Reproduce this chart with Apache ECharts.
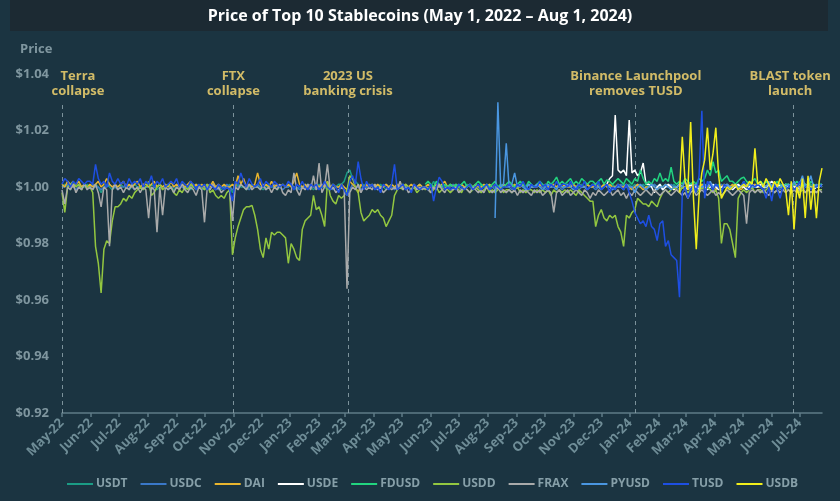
<!DOCTYPE html>
<html>
<head>
<meta charset="utf-8">
<script src="https://cdn.jsdelivr.net/npm/echarts@6/dist/echarts.min.js"></script>
<style>html,body{margin:0;padding:0;background:#1b3441;}#c{width:840px;height:501px;}</style>
</head>
<body>
<div id="c"></div>
<script>
// ---- DATA ----
const titleText = 'Price of Top 10 Stablecoins (May 1, 2022 \u2013 Aug 1, 2024)';
const seriesNames = ['USDT','USDC','DAI','USDE','FDUSD','USDD','FRAX','PYUSD','TUSD','USDB'];
const START = Date.UTC(2022, 4, 1);
const END = Date.UTC(2024, 6, 25);
const STEP_DAYS = 3;          // one value every 3 days
const N_POINTS = 273;
const monthAbbr = ['Jan','Feb','Mar','Apr','May','Jun','Jul','Aug','Sep','Oct','Nov','Dec'];
const yTicks = [0.92, 0.94, 0.96, 0.98, 1.00, 1.02, 1.04];

const events = [
  {date: Date.UTC(2022, 4, 1),  text: 'Terra\ncollapse'},
  {date: Date.UTC(2022, 10, 1), text: 'FTX\ncollapse'},
  {date: Date.UTC(2023, 2, 4),  text: '2023 US\nbanking crisis'},
  {date: Date.UTC(2024, 0, 6),  text: 'Binance Launchpool\nremoves TUSD'},
  {date: Date.UTC(2024, 5, 24), text: 'BLAST token\nlaunch'}
];

// start index (in the 3-day grid) of each series
const startIndex = {USDT:0, USDC:0, DAI:0, USDE:195, FDUSD:130, USDD:0, FRAX:0, PYUSD:155, TUSD:0, USDB:221};

const USDT = [
1.000,1.001,1.000,0.999,1.001,1.000,1.001,1.000,1.000,1.001,
1.000,0.999,1.001,1.000,0.998,1.000,1.001,1.000,0.999,1.000,
1.000,1.001,1.000,1.000,0.999,1.000,1.001,1.000,1.000,0.999,
1.000,1.000,1.001,1.000,0.999,1.000,1.000,1.001,1.000,1.000,
0.999,1.000,1.000,1.001,1.000,1.000,0.999,1.000,1.001,1.000,
1.000,0.999,1.000,1.000,1.001,1.000,1.000,0.999,1.000,1.000,
1.001,0.998,1.000,1.001,1.000,1.000,0.999,1.000,1.001,1.000,
1.000,1.000,0.999,1.000,1.001,1.000,1.000,0.999,1.000,1.001,
1.000,1.000,1.001,1.000,0.999,1.000,1.000,1.001,1.000,1.000,
0.999,1.000,1.001,1.000,1.000,0.999,1.000,1.001,1.000,1.001,
1.001,1.002,1.005,1.006,1.003,1.002,1.001,1.000,1.001,1.000,
1.000,1.001,1.000,1.000,1.001,1.000,0.999,1.000,1.001,1.000,
1.000,1.000,1.001,1.000,1.000,0.999,1.000,1.000,1.001,1.000,
1.000,1.001,1.000,1.002,1.000,1.000,1.001,1.000,1.000,1.001,
1.000,1.000,1.001,1.000,1.000,1.001,1.000,0.999,1.000,1.000,
1.001,1.000,1.000,1.001,1.000,1.000,0.999,1.000,1.001,1.000,
1.000,1.001,1.000,1.000,1.001,1.000,1.000,1.001,1.000,1.000,
1.001,1.000,1.000,1.001,1.000,1.001,1.000,1.000,1.001,1.000,
1.000,1.001,1.000,1.001,1.000,1.000,1.001,1.000,1.001,1.000,
1.001,1.000,1.001,1.000,1.000,1.001,1.000,1.001,1.000,1.001,
1.000,1.001,1.000,1.001,1.000,1.001,1.000,1.000,1.001,1.000,
1.001,1.000,1.001,1.000,1.001,1.000,1.000,1.001,1.000,1.001,
1.000,1.001,1.000,1.000,1.001,1.000,1.001,1.000,1.000,1.001,
1.001,1.000,1.001,1.000,1.000,1.001,1.000,1.001,1.000,1.000,
1.000,1.001,1.000,1.000,1.001,1.000,1.000,1.001,1.000,1.000,
1.001,1.000,1.000,1.001,1.000,1.000,1.001,1.000,1.000,1.001,
1.000,1.000,1.001,1.000,1.000,1.001,1.000,1.000,1.001,1.000,
1.000,1.001,1.000];

const USDC = [
1.000,1.000,1.001,1.000,1.000,0.999,1.000,1.000,1.001,1.000,
1.000,1.001,1.000,1.000,0.999,1.000,1.000,1.001,1.000,1.000,
0.999,1.000,1.000,1.001,1.000,1.000,0.999,1.000,1.000,1.001,
1.000,1.000,0.999,1.000,1.000,1.001,1.000,1.000,0.999,1.000,
1.000,1.001,1.000,1.000,0.999,1.000,1.000,1.001,1.000,1.000,
0.999,1.000,1.000,1.001,1.000,1.000,0.999,1.000,1.000,1.001,
1.000,0.999,1.000,1.000,1.001,1.000,1.000,0.999,1.000,1.000,
1.001,1.000,1.000,0.999,1.000,1.000,1.001,1.000,1.000,0.999,
1.000,1.000,1.001,1.000,1.000,0.999,1.000,1.000,1.001,1.000,
1.000,0.999,1.000,1.000,1.001,1.000,1.000,0.999,1.000,1.000,
1.000,0.999,0.997,0.999,1.001,1.000,1.000,0.999,1.000,1.000,
1.001,1.000,1.000,0.999,1.000,1.000,1.001,1.000,1.000,0.999,
1.000,1.000,1.001,1.000,1.000,0.999,1.000,1.000,1.001,1.000,
1.000,0.999,1.000,1.000,1.001,1.000,1.000,0.999,1.000,1.000,
1.001,1.000,1.000,0.999,1.000,1.000,1.001,1.000,1.000,0.999,
1.000,1.000,1.001,1.000,1.000,0.999,1.000,1.000,1.001,1.000,
1.000,0.999,1.000,1.000,1.001,1.000,1.000,0.999,1.000,1.000,
1.001,1.000,1.000,0.999,1.000,1.000,1.001,1.000,1.000,0.999,
1.000,1.000,1.001,1.000,1.000,0.999,1.000,1.000,1.001,1.000,
1.000,0.999,1.000,1.000,1.001,1.000,1.000,0.999,1.000,1.000,
1.001,1.000,1.000,0.999,1.000,1.000,1.001,1.000,1.000,0.999,
1.000,1.000,1.001,1.000,1.000,0.999,1.000,1.000,1.001,1.000,
1.000,0.999,1.000,1.000,1.001,1.000,1.000,0.999,1.000,1.000,
1.001,1.000,1.000,0.999,1.000,1.000,1.001,1.000,1.000,0.999,
1.000,1.000,1.001,1.000,1.000,0.999,1.000,1.000,1.001,1.000,
1.000,0.999,1.000,1.000,1.001,1.000,1.000,0.999,1.000,1.000,
1.001,1.000,1.000,0.999,1.000,1.000,1.001,1.000,1.000,0.999,
1.000,1.000,1.001];

const DAI = [
1.001,1.000,1.002,1.001,1.000,1.001,1.002,1.000,1.001,1.000,
1.001,1.000,1.001,1.002,1.000,1.001,1.003,1.001,1.000,1.001,
1.000,1.001,1.002,1.000,1.001,1.000,1.001,1.002,1.000,1.001,
1.001,1.000,1.001,1.002,1.000,1.001,1.000,1.001,1.000,1.002,
1.000,1.001,1.000,1.001,1.000,1.001,1.002,1.000,1.001,1.000,
1.001,1.000,1.001,1.000,1.002,1.000,1.001,1.000,1.001,1.000,
1.000,1.001,1.000,1.004,1.001,1.003,1.000,1.001,1.000,1.001,
1.005,1.001,1.000,1.001,1.000,1.002,1.000,1.001,1.000,1.001,
1.000,1.001,1.000,1.002,1.005,1.001,1.000,1.001,1.000,1.001,
1.000,1.001,1.000,1.001,1.000,1.002,1.000,1.001,1.000,1.000,
1.001,1.000,0.999,1.002,1.001,1.000,0.998,1.001,1.000,1.001,
1.000,1.001,1.000,1.001,1.000,1.000,1.001,1.000,1.001,1.000,
1.001,1.000,1.000,1.001,1.000,1.001,1.000,1.000,1.001,1.000,
1.000,1.001,1.000,1.000,1.001,1.000,1.001,1.002,1.000,1.001,
1.000,1.001,1.000,1.001,1.000,1.000,1.001,1.000,1.001,1.000,
1.000,1.001,1.000,1.001,1.000,1.001,1.000,1.000,1.001,1.000,
1.001,1.000,1.001,1.000,1.000,1.001,1.000,1.001,1.000,1.000,
1.000,1.001,1.000,1.001,1.000,1.000,1.001,1.000,1.001,1.000,
1.001,1.000,1.000,1.001,1.000,1.001,1.000,1.000,1.001,1.000,
1.000,1.001,1.000,1.000,1.001,1.000,1.001,1.000,1.000,1.001,
1.000,1.000,1.001,1.000,0.999,1.000,1.001,1.000,0.999,1.000,
1.000,1.001,1.000,0.999,1.000,1.000,1.001,1.000,1.000,0.999,
1.000,1.001,1.000,1.000,0.999,1.000,1.001,1.000,1.000,1.001,
1.000,1.000,1.001,1.000,0.999,1.000,1.000,1.001,1.000,1.000,
1.001,1.000,1.000,0.999,1.000,1.001,1.000,1.000,1.001,1.000,
1.000,1.001,1.000,1.000,0.999,1.000,1.001,1.000,1.000,1.000,
1.001,1.000,1.000,1.001,1.000,0.999,1.000,1.001,1.000,1.000,
1.000,1.001,1.000];

const USDE = [
1.001,1.003,1.004,1.0255,1.006,
1.005,1.006,1.004,1.0237,1.005,1.006,1.004,1.005,1.0085,1.001,
1.001,1.000,0.998,1.000,1.001,0.999,1.000,1.001,1.000,0.999,
1.000,1.001,1.000,0.999,1.000,1.001,1.000,1.000,0.999,1.000,
1.000,0.999,1.000,1.001,1.000,0.999,1.000,1.000,1.001,1.000,
0.999,1.000,1.001,1.000,1.000,0.999,1.000,1.001,1.000,1.000,
1.001,1.000,1.000,1.001,1.002,1.001,1.000,1.001,1.000,1.001,
1.000,1.001,1.000,1.000,0.999,1.000,1.001,1.000,1.000,0.999,
1.000,1.000,1.001];

const FDUSD = [
1.001,1.002,1.001,1.000,1.002,1.001,1.000,1.001,1.000,1.001,
1.000,1.001,1.000,1.001,1.002,1.000,1.001,1.000,1.001,1.002,
1.001,1.000,1.001,1.000,1.001,1.002,1.000,1.001,1.000,1.001,
1.002,1.001,1.000,1.001,1.002,1.001,1.000,1.002,1.001,1.000,
1.001,1.002,1.001,1.000,1.002,1.001,1.002,1.0035,1.001,1.002,
1.001,1.002,1.003,1.001,1.002,1.001,1.003,1.002,1.001,1.002,
1.002,1.001,1.002,1.003,1.001,1.0025,1.002,1.001,1.002,1.003,
1.002,1.001,1.003,1.002,1.001,1.003,1.002,1.006,1.003,1.001,
1.002,1.001,1.003,1.002,1.005,1.002,1.003,1.002,1.007,1.002,
1.001,1.002,1.001,1.003,1.002,1.001,1.002,1.001,1.003,1.002,
1.003,1.006,1.004,1.009,1.005,1.006,1.002,1.003,1.004,1.002,
1.002,1.001,1.002,1.003,1.0035,1.002,1.001,1.002,1.003,1.001,
1.002,1.001,1.002,1.001,1.000,1.001,1.002,1.001,1.000,1.001,
1.001,1.000,1.001,1.002,1.001,1.000,1.001,1.000,1.002,1.001,
1.000,1.001,1.001];

const USDD = [
0.998,0.991,1.000,1.001,1.002,1.000,1.001,0.999,1.001,1.000,
1.000,0.998,0.979,0.973,0.9625,0.978,0.981,0.980,0.988,0.993,
0.993,0.994,0.996,0.995,0.997,0.996,0.998,0.999,1.000,0.999,
1.000,1.002,0.997,0.998,1.000,1.001,0.999,1.000,1.001,1.000,
0.998,0.997,0.999,0.998,1.000,0.999,1.001,1.000,0.999,1.000,
1.000,0.999,1.001,0.998,0.999,0.997,0.996,0.997,0.996,0.998,
0.999,0.976,0.982,0.986,0.989,0.992,0.993,0.993,0.9935,0.990,
0.985,0.978,0.975,0.982,0.978,0.984,0.983,0.984,0.984,0.983,
0.982,0.973,0.980,0.978,0.975,0.974,0.985,0.988,0.989,0.990,
0.997,0.992,0.993,0.990,0.986,1.002,0.997,0.995,0.994,0.997,
0.996,0.997,0.999,1.004,1.003,1.000,0.998,0.991,0.988,0.989,
0.990,0.992,0.991,0.992,0.990,0.989,0.986,0.988,0.990,0.997,
0.999,1.000,0.999,1.001,1.000,0.999,1.000,0.998,0.999,1.000,
0.999,1.000,0.998,0.999,1.000,0.998,0.999,1.000,0.999,0.998,
0.999,1.000,0.999,0.998,1.000,0.999,0.998,0.999,1.000,0.999,
0.998,0.999,1.000,0.998,0.999,0.998,0.999,1.000,0.998,0.999,
0.999,0.998,0.999,1.000,0.998,0.999,0.998,0.999,0.999,0.998,
0.999,0.998,0.999,0.998,0.999,0.997,0.999,0.998,0.999,0.998,
0.999,0.998,0.999,0.998,0.997,0.999,0.998,0.997,0.996,0.995,
0.995,0.986,0.990,0.992,0.989,0.988,0.990,0.989,0.990,0.986,
0.984,0.979,0.990,0.989,0.991,0.992,0.996,0.995,0.994,0.994,
0.993,0.995,0.994,0.993,0.996,0.998,0.999,0.998,0.999,1.000,
0.999,0.998,1.000,0.999,0.998,0.999,1.000,0.998,0.999,1.000,
0.999,1.000,0.999,0.998,0.999,0.996,0.980,0.987,0.987,0.985,
0.980,0.975,0.996,0.998,0.999,0.998,0.999,1.000,0.998,0.999,
0.999,0.998,0.999,1.000,0.999,0.998,0.999,0.998,0.999,1.000,
0.999,0.998,0.999,1.000,0.998,0.999,0.998,0.999,1.000,0.999,
0.998,0.999,0.999];

const FRAX = [
0.999,0.994,1.000,0.999,1.001,0.998,1.000,0.999,1.001,0.999,
1.000,0.999,1.001,0.998,0.993,1.000,0.999,0.979,0.999,1.001,
0.999,1.000,0.998,1.000,0.999,1.001,0.999,1.000,0.998,1.000,
0.999,0.989,1.000,0.999,0.984,1.000,0.990,1.000,0.999,1.000,
0.998,1.000,0.999,1.001,0.999,0.998,1.000,0.999,0.997,1.000,
0.999,0.9875,1.000,0.999,1.001,0.999,1.000,0.998,0.999,1.000,
0.999,0.988,1.000,0.999,1.001,1.000,0.999,1.001,0.999,1.000,
1.000,0.999,1.001,0.999,1.000,0.998,1.000,0.999,1.001,0.998,
0.997,0.999,0.998,1.005,0.999,0.997,1.000,0.999,1.001,0.999,
1.004,0.999,1.0085,0.998,1.000,1.008,0.999,1.000,0.998,0.999,
1.000,0.999,0.964,0.998,1.000,0.999,1.001,0.998,1.000,0.999,
1.000,0.999,1.001,0.999,1.000,0.998,0.999,1.000,0.999,1.000,
0.999,1.002,0.999,1.000,0.998,0.999,1.001,0.999,1.000,0.999,
1.000,0.999,0.998,1.000,0.999,1.001,0.999,0.998,1.000,0.999,
0.999,1.000,0.998,0.999,1.000,0.999,0.998,1.000,0.999,0.998,
0.999,0.998,1.000,0.999,0.998,0.999,1.000,0.998,0.999,0.998,
0.999,0.998,0.999,0.997,0.999,0.998,0.999,0.998,0.997,0.999,
0.998,0.999,0.997,0.998,0.999,0.998,0.991,0.998,0.999,0.997,
0.998,0.999,0.997,0.998,0.999,0.998,0.997,0.999,0.998,0.996,
0.998,0.997,0.999,0.998,0.997,0.998,0.999,0.997,0.998,0.999,
0.997,0.998,0.996,0.998,0.997,0.999,0.998,0.997,0.998,0.999,
0.998,0.997,0.999,0.998,0.997,0.998,0.999,0.998,0.997,0.998,
0.999,0.998,0.997,0.998,0.996,0.998,0.999,0.997,0.998,0.999,
0.998,0.997,0.998,0.999,0.997,0.998,0.997,0.998,0.999,0.998,
0.997,0.998,0.999,0.998,0.997,0.987,0.998,0.999,0.998,0.999,
0.998,0.999,0.998,0.997,0.999,0.998,0.999,0.998,0.999,0.998,
0.999,0.998,0.999,0.998,0.999,1.000,0.998,0.999,0.998,0.999,
0.998,0.999,0.998];

const PYUSD = [
0.989,1.030,1.000,1.001,1.0155,
1.000,1.001,1.005,1.000,1.001,1.000,0.999,1.001,1.000,1.000,
1.001,1.000,0.999,1.000,1.001,1.000,1.000,0.999,1.001,1.000,
1.000,1.001,1.000,0.999,1.000,1.001,1.000,1.000,0.999,1.000,
1.001,1.000,1.000,0.999,1.000,1.001,1.000,0.999,1.000,1.000,
1.000,0.999,1.001,1.000,1.000,0.998,1.000,1.001,1.000,0.999,
1.000,1.001,1.000,0.999,1.000,1.000,1.001,1.000,0.999,1.000,
1.000,1.001,1.000,1.002,1.000,0.999,1.000,1.001,1.000,1.000,
1.001,1.000,1.002,1.000,1.001,1.000,0.999,1.000,1.001,1.000,
1.000,1.001,1.000,1.000,1.002,1.000,1.001,1.000,1.000,1.001,
1.000,1.001,1.000,1.002,1.000,1.001,1.000,1.000,1.001,1.000,
1.001,1.000,1.002,1.000,1.001,1.004,1.000,1.001,1.004,1.000,
1.001,1.000,1.001];

const TUSD = [
1.001,1.003,1.002,1.000,1.002,1.001,1.003,1.002,1.001,1.002,
1.002,1.001,1.008,1.003,1.001,1.002,1.000,1.005,1.002,1.001,
1.003,1.001,1.002,1.000,1.003,1.001,1.002,1.001,1.003,1.000,
1.002,1.001,1.004,1.000,1.002,1.001,1.003,1.000,1.001,1.002,
1.001,1.003,1.000,1.002,1.001,1.000,1.002,1.001,0.999,1.001,
1.000,1.001,0.999,1.001,1.000,0.999,1.001,1.000,0.999,1.000,
0.999,0.995,1.002,1.001,1.005,1.002,1.000,1.003,1.001,1.000,
1.001,1.003,1.000,1.002,1.001,1.000,1.002,1.001,1.000,1.001,
1.000,1.002,1.001,0.999,1.001,1.000,1.002,1.000,0.999,1.001,
1.000,1.001,0.999,1.000,1.002,1.000,0.999,1.001,1.000,0.998,
1.001,0.999,0.997,1.002,1.004,1.001,1.009,1.003,0.999,1.002,
1.000,1.001,0.999,1.000,0.998,1.001,1.000,0.999,1.001,1.008,
0.999,1.000,1.001,0.999,1.000,0.998,1.001,1.000,0.999,1.000,
1.000,0.999,1.001,0.995,1.000,1.0035,1.002,0.999,1.000,0.999,
1.000,0.999,1.001,1.000,0.999,1.000,1.001,0.999,1.000,1.001,
0.999,1.000,1.001,0.999,1.000,1.001,1.000,0.999,1.000,1.000,
1.001,1.000,0.999,1.001,1.000,1.002,1.000,0.999,1.001,1.000,
1.000,1.002,1.000,1.001,0.999,1.001,1.000,1.002,1.000,1.001,
1.001,1.000,1.002,1.000,0.999,1.001,1.000,1.002,0.999,1.000,
1.001,1.000,1.002,0.999,1.000,1.001,0.998,1.000,0.999,1.001,
1.000,0.999,1.001,0.998,0.995,0.991,0.989,0.987,0.988,0.986,
0.990,0.986,0.985,0.981,0.987,0.988,0.979,0.981,0.976,0.975,
0.974,0.961,0.998,1.000,0.996,0.999,1.001,0.998,1.004,1.027,
0.996,1.002,1.001,0.999,1.001,1.000,0.998,1.001,1.000,0.999,
1.000,1.001,0.999,1.000,1.002,1.000,0.999,1.001,1.000,1.001,
1.000,0.999,0.996,1.000,0.995,1.001,0.999,0.996,1.000,0.999,
1.000,1.001,0.999,1.000,1.002,0.999,1.000,1.001,0.999,1.000,
1.000,1.001,1.000];

const USDB = [
0.998,1.0178,1.002,0.999,1.023,0.996,0.978,0.997,1.005,
1.0095,1.021,1.006,1.012,1.021,1.004,0.996,0.998,1.000,0.999,
1.000,1.001,0.999,1.000,1.001,1.000,1.002,1.001,1.0137,1.001,
1.002,1.000,1.003,1.001,0.999,1.002,1.000,1.003,1.001,0.999,
0.990,1.002,0.985,1.000,0.996,1.003,0.989,1.004,0.992,1.001,
0.989,1.002,1.0067];

const seriesValues = {USDT, USDC, DAI, USDE, FDUSD, USDD, FRAX, PYUSD, TUSD, USDB};

// ---- STYLE ----
const colors = {
  USDT:'#1b9c85', USDC:'#3a78c8', DAI:'#e9b52e', USDE:'#ffffff', FDUSD:'#22d47f',
  USDD:'#93c740', FRAX:'#a9aaaa', PYUSD:'#4a96e0', TUSD:'#1e4fe2', USDB:'#f1ee1b'
};
const labelOffsets = [[16,0],[0,0],[0,0],[1,0],[-3,0]];
const FONT = 'Open Sans';

const dates = [];
for (let i = 0; i < N_POINTS; i++) dates.push(START + i * STEP_DAYS * 86400000);
const monthTicks = [];
for (let y = 2022, m = 4; Date.UTC(y, m, 1) <= END; ) {
  monthTicks.push(Date.UTC(y, m, 1));
  m++; if (m > 11) { m = 0; y++; }
}

const chart = echarts.init(document.getElementById('c'), null, {renderer:'canvas'});

const series = seriesNames.map((name, si) => {
  const vals = seriesValues[name];
  const s0 = startIndex[name];
  const s = {
    name, type:'line', showSymbol:false, symbol:'none',
    animation:false, z: 2 + si,
    lineStyle:{width:1.5, color:colors[name]},
    itemStyle:{color:colors[name]},
    data: vals.map((v, k) => [dates[s0 + k], v])
  };
  if (si === 0) {
    s.markLine = {
      silent:true, symbol:['none','none'], animation:false,
      lineStyle:{type:[4,4], color:'#8da3ab', width:1, opacity:0.85},
      label:{show:true, position:'end', formatter:'{b}', color:'#f2d46e',
             fontFamily:FONT, fontWeight:'bold', fontSize:13, lineHeight:15, distance:4},
      data: events.map((e, k) => [
        {name:e.text, coord:[e.date, 0.92], label:{offset:labelOffsets[k]}},
        {coord:[e.date, 1.0297]}
      ])
    };
  }
  return s;
});

chart.setOption({
  backgroundColor:'#1b3441',
  animation:false,
  title:{text:titleText, left:'center', top:3,
         textStyle:{color:'#ffffff', fontFamily:FONT, fontWeight:'bold', fontSize:16}},
  graphic:[
    {type:'rect', z:-1, shape:{x:10, y:0, width:818, height:31}, style:{fill:'#1c2a33'}},
    {type:'text', left:20, top:43, style:{text:'Price', fill:'#7f969f', font:'bold 13px "Open Sans"'}}
  ],
  grid:{left:62, right:18, top:74, bottom:88},
  legend:{
    data:seriesNames, top:478, left:67, padding:0, width:780, icon:'rect', itemWidth:26, itemHeight:2, itemGap:13,
    textStyle:{color:'#869fa8', fontFamily:FONT, fontWeight:'bold', fontSize:12, padding:[0,0,0,-2]}
  },
  xAxis:{
    type:'value', min:START, max:END, scale:true,
    axisLine:{show:true, lineStyle:{color:'#5f7b86', width:1.5}},
    axisTick:{show:true, customValues:monthTicks, length:4, lineStyle:{color:'#5f7b86', width:1.5}},
    axisLabel:{customValues:monthTicks, rotate:45, color:'#6f8d97', fontFamily:FONT, fontWeight:'bold', fontSize:13, margin:8,
      formatter:(v) => { const d = new Date(v); return monthAbbr[d.getUTCMonth()] + '-' + String(d.getUTCFullYear()).slice(2); }},
    splitLine:{show:false}
  },
  yAxis:{
    type:'value', min:yTicks[0], max:yTicks[yTicks.length-1], interval:0.02,
    axisLine:{show:false}, axisTick:{show:false}, splitLine:{show:false},
    axisLabel:{color:'#7f969f', fontFamily:FONT, fontWeight:'bold', fontSize:13, margin:13,
      formatter:(v) => '$' + v.toFixed(2)}
  },
  series
});
</script>
</body>
</html>
